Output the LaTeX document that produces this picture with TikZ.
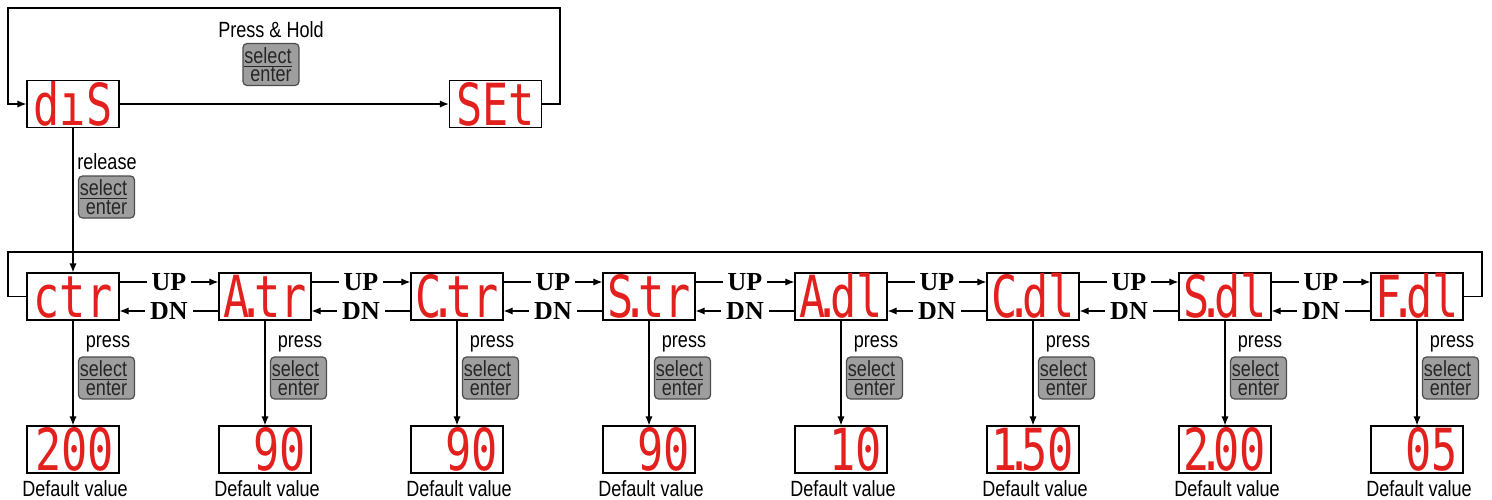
\documentclass[tikz,border=0pt]{standalone}
\usepackage{fontspec}
\setmainfont{Liberation Sans}[FakeStretch=0.82]
\newfontfamily\updnfont{Liberation Serif}
\newfontfamily\segfont{DejaVu Sans Mono}[FakeStretch=0.75]
\usetikzlibrary{calc,arrows.meta}
\definecolor{segred}{RGB}{226,32,30}
\definecolor{keygray}{RGB}{158,158,158}
\newcommand{\segc}[1]{\makebox[41pt][c]{#1}}
\newcommand{\segr}[1]{\makebox[41pt][r]{#1}}
\newcommand{\sdot}{\kern-5.5pt.\kern-5.5pt}
\newcommand{\keyfont}{\fontsize{11}{9.2}\selectfont\lineskiplimit=-5pt}
\newcommand{\keytext}{\underline{select}\hspace*{3pt}\\enter\hspace*{3pt}}
\newcommand{\updn}[2]{%
  \draw[arr] ($(#1.east)+(0,-14.5)$) --node[dirlbl]{UP} ($(#2.west)+(0,-14.5)$);
  \draw[arr] ($(#2.west)+(0,14.5)$) --node[dirlbl]{DN} ($(#1.east)+(0,14.5)$);}
\newcommand{\press}[2]{%
  \node[lbl](#1p) at ($(#1)+(35,47.5)$) {press};
  \node[key](#1k) at ($(#1)+(33.5,81.5)$) {\keytext};
  \node[disp](#1v) at ($(#1)+(0,153)$) {\segr{#2}};
  \node[lbl](#1d) at ($(#1v)+(2,39)$) {Default value};
  \draw[arr] (#1) -- (#1v);}

\begin{document}
\begin{tikzpicture}[x=0.5pt,y=-0.5pt,line width=0.6pt,
    arr/.style={-{Latex[length=4.5pt,width=3.6pt]}},
    disp/.style={draw,minimum width=46pt,minimum height=23.5pt,inner sep=0pt,
      text=segred,font=\segfont\fontsize{29}{29}\selectfont,
      text height=21.1pt,text depth=0pt},
    key/.style={draw=black!70,fill=keygray,rounded corners=2pt,minimum width=28pt,
      minimum height=21pt,inner sep=0.5pt,align=right,text=black!85,font=\keyfont},
    lbl/.style={inner sep=0pt,font=\fontsize{11}{13}\selectfont},
    dirlbl/.style={fill=white,inner xsep=2.5pt,inner ysep=1pt,
      font=\updnfont\bfseries\fontsize{13}{13}\selectfont}]
  \useasboundingbox (0,0) rectangle (1492,499);

  % start-up
  \node[disp](dis) at (73,104) {\segc{dıS}};
  \node[disp](set) at (495.5,104) {\segc{SEt}};
  \node[lbl](hold) at (271,30) {Press \& Hold};
  \node[key](holdk) at (271,64.5) {\keytext};
  \node[lbl](rel) at (107,161.5) {release};
  \node[key](relk) at (106.5,197) {\keytext};
  \coordinate (topL) at (8,8);
  \coordinate (topR) at (560,8);
  \draw[arr] (dis) -- (set);
  \draw[arr] (set.east) -| (topR) -- (topL) |- (dis.west);

  % parameters
  \node[disp](ctr) at (73,296.5) {\segc{ctr}};
  \node[disp](Atr) at (265,296.5) {\segc{A\sdot tr}};
  \node[disp](Ctr) at (457,296.5) {\segc{C\sdot tr}};
  \node[disp](Str) at (649,296.5) {\segc{S\sdot tr}};
  \node[disp](Adl) at (841,296.5) {\segc{A\sdot dl}};
  \node[disp](Cdl) at (1033,296.5) {\segc{C\sdot dl}};
  \node[disp](Sdl) at (1225,296.5) {\segc{S\sdot dl}};
  \node[disp](Fdl) at (1417,296.5) {\segc{F\sdot dl}};
  \draw[arr] (dis) -- (ctr);
  \coordinate (loopL) at (8,252);
  \coordinate (loopR) at (1482,252);
  \draw (Fdl.east) -| (loopR) -- (loopL) |- (ctr.west);

  \updn{ctr}{Atr}
  \updn{Atr}{Ctr}
  \updn{Ctr}{Str}
  \updn{Str}{Adl}
  \updn{Adl}{Cdl}
  \updn{Cdl}{Sdl}
  \updn{Sdl}{Fdl}

  % default values
  \press{ctr}{200}
  \press{Atr}{90}
  \press{Ctr}{90}
  \press{Str}{90}
  \press{Adl}{10}
  \press{Cdl}{1\sdot 50}
  \press{Sdl}{2\sdot 00}
  \press{Fdl}{05}
\end{tikzpicture}
\end{document}
